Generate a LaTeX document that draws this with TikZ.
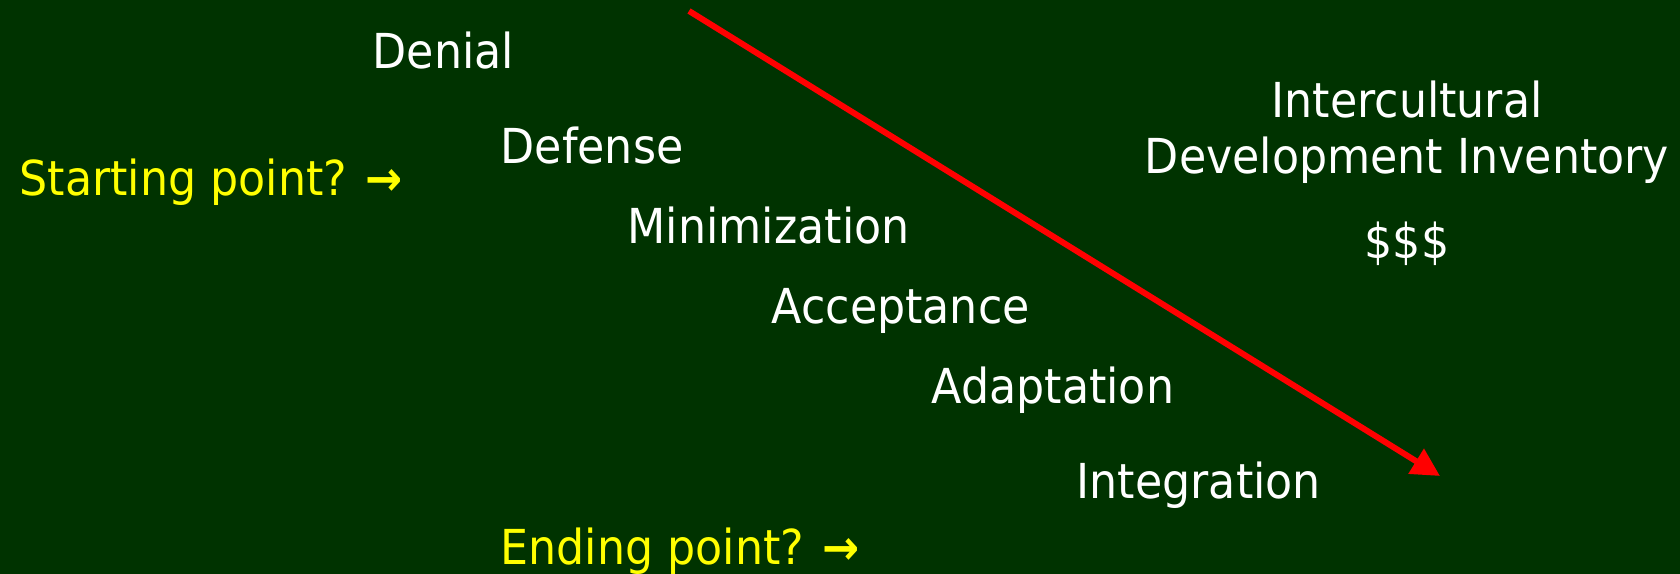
\documentclass[tikz,border=0pt]{standalone}
\usepackage{fontspec}
\setmainfont{DejaVu Sans}[FakeStretch=0.92]
\usetikzlibrary{arrows.meta}
\definecolor{bggreen}{RGB}{0,51,0}
\definecolor{hiyellow}{RGB}{255,255,0}

\begin{document}
\begin{tikzpicture}[x=0.01cm,y=-0.01cm,
  stage/.style={anchor=base west,inner sep=0pt,text=white,font=\fontsize{13.7}{16}\selectfont},
  query/.style={stage,text=hiyellow},
  idi/.style={anchor=base,inner sep=0pt,text=white,font=\fontsize{13.7}{16}\selectfont}]
  \fill[bggreen] (0,0) rectangle (1680,574);
  \useasboundingbox (0,0) rectangle (1680,574);
  % stages of the model
  \node[stage] (denial) at (372,69) {Denial};
  \node[stage] (defense) at (500,164) {Defense};
  \node[stage] (minim) at (627,244) {Minimization};
  \node[stage] (accept) at (771,324) {Acceptance};
  \node[stage] (adapt) at (931,404) {Adaptation};
  \node[stage] (integ) at (1076,499) {Integration};
  \node[query] (start) at (19,196) {Starting point? {\bfseries →}};
  \node[query] (ending) at (500,565) {Ending point? {\bfseries →}};
  % inventory
  \node[idi] (inter) at (1407,118) {Intercultural};
  \node[idi] (devinv) at (1407,174) {Development Inventory};
  \node[idi] (cost) at (1407,259) {\$\$\$};
  \coordinate (arrtop) at (689,11); \coordinate (arrtip) at (1440,476);
  \draw[red,line width=1.7pt,-{Triangle[length=8pt,width=8pt]}] (arrtop)--(arrtip);
\end{tikzpicture}
\end{document}
